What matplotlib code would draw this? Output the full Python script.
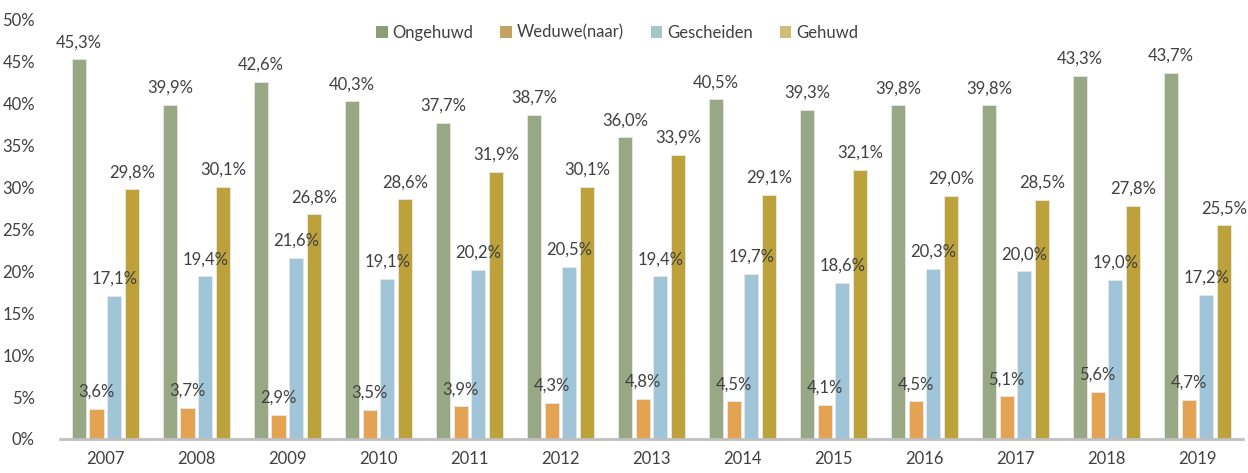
import matplotlib
matplotlib.use("Agg")
import matplotlib.pyplot as plt
import numpy as np
from matplotlib.patches import Patch

years = ["2007", "2008", "2009", "2010", "2011", "2012", "2013", "2014", "2015", "2016", "2017", "2018", "2019"]
series_names = ["Ongehuwd", "Weduwe(naar)", "Gescheiden", "Gehuwd"]
ongehuwd = [45.3, 39.9, 42.6, 40.3, 37.7, 38.7, 36.0, 40.5, 39.3, 39.8, 39.8, 43.3, 43.7]
weduwe = [3.6, 3.7, 2.9, 3.5, 3.9, 4.3, 4.8, 4.5, 4.1, 4.5, 5.1, 5.6, 4.7]
gescheiden = [17.1, 19.4, 21.6, 19.1, 20.2, 20.5, 19.4, 19.7, 18.6, 20.3, 20.0, 19.0, 17.2]
gehuwd = [29.8, 30.1, 26.8, 28.6, 31.9, 30.1, 33.9, 29.1, 32.1, 29.0, 28.5, 27.8, 25.5]

bar_colors = ["#98A884", "#E3A352", "#A0C4D8", "#BDA23C"]
legend_colors = ["#8C9E78", "#C2A460", "#A8C6C6", "#CDBE78"]
text_color = "#404040"

plt.rcParams['font.family'] = ['Lato', 'DejaVu Sans']

fig = plt.figure(figsize=(12.48, 4.73), dpi=100)
ax = fig.add_axes([0.048, 0.072, 0.948, 0.886])

x = np.arange(len(years))
pitch = 0.195
width = 0.155
all_series = [ongehuwd, weduwe, gescheiden, gehuwd]
for i, vals in enumerate(all_series):
    off = (i - 1.5) * pitch
    ax.bar(x + off, vals, width=width, color=bar_colors[i], edgecolor="#E8E8E8", linewidth=0.6, zorder=2)
    for xi, v in zip(x, vals):
        ax.annotate(f"{v:.1f}%".replace(".", ","), (xi + off, v), xytext=(0, 6.5),
                    textcoords="offset points", ha="center", va="bottom",
                    fontsize=12, color=text_color)

ax.set_xlim(-0.5, len(years) - 0.5)
ax.set_ylim(0, 50)
ax.set_yticks(np.arange(0, 51, 5))
ax.set_yticklabels([f"{t}%" for t in range(0, 51, 5)])
ax.set_xticks(x)
ax.set_xticklabels(years)
ax.tick_params(axis="both", length=0, labelsize=12, labelcolor=text_color)
ax.tick_params(axis="x", pad=9)
ax.tick_params(axis="y", pad=18)
for s in ["top", "right", "left"]:
    ax.spines[s].set_visible(False)
ax.spines["bottom"].set_color("#BFBFBF")
ax.spines["bottom"].set_linewidth(2)

handles = [Patch(facecolor=c, edgecolor="none") for c in legend_colors]
leg = ax.legend(handles, series_names, loc="center", bbox_to_anchor=(0.471, 0.969), ncol=4,
                frameon=False, fontsize=12, handlelength=0.7, handleheight=0.7,
                handletextpad=0.3, columnspacing=1.6, labelcolor=text_color,
                borderpad=0, borderaxespad=0)

fig.savefig("out.png", dpi=100)
